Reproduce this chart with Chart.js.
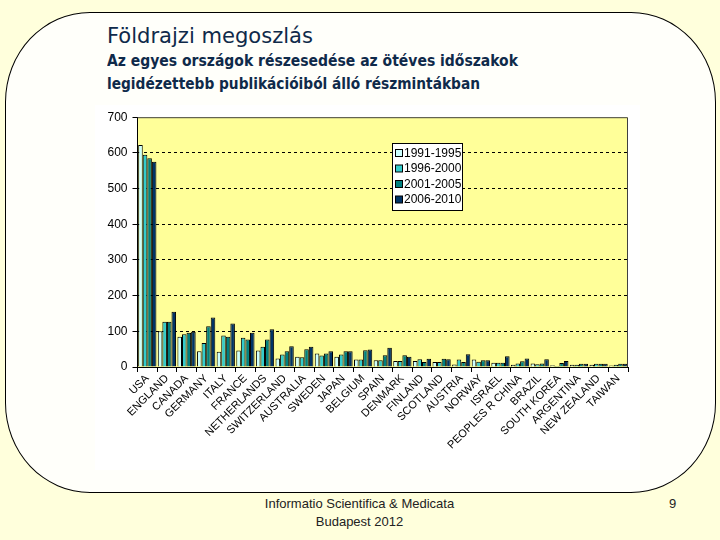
<!DOCTYPE html>
<html>
<head>
<meta charset="utf-8">
<script src="https://cdn.jsdelivr.net/npm/chart.js@4/dist/chart.umd.min.js"></script>
<style>
  html, body { margin: 0; padding: 0; }
  body { width: 720px; height: 540px; background: #ffffdc; position: relative; overflow: hidden; }
  #frame {
    position: absolute; left: 5px; top: 12px; width: 709px; height: 479px;
    border: 1px solid #000; border-radius: 85px / 90px; background: #fffffa;
  }
  .txt { position: absolute; white-space: nowrap; transform-origin: left top; color: #0f2a4a; }
  #t1 { left: 107px; top: 23px; font: 22px "DejaVu Sans Condensed", "DejaVu Sans", sans-serif; }
  #t2 { left: 107px; top: 52px; font: bold 15px "DejaVu Sans Condensed", "DejaVu Sans", sans-serif; }
  #t3 { left: 107px; top: 75px; font: bold 15px "DejaVu Sans Condensed", "DejaVu Sans", sans-serif; }
  .foot { position: absolute; font: 13px "Liberation Sans", Arial, sans-serif; color: #222; white-space: nowrap; }
  #wrap { position: absolute; left: 95px; top: 105px; width: 545px; height: 365px; background: #fff; }
</style>
</head>
<body>
<div id="frame"></div>
<div class="txt" id="t1" data-w="206">Földrajzi megoszlás</div>
<div class="txt" id="t2" data-w="411">Az egyes országok részesedése az ötéves időszakok</div>
<div class="txt" id="t3" data-w="373">legidézettebb publikációiból álló részmintákban</div>
<div class="foot" style="left:0;width:719px;text-align:center;top:496px;">Informatio Scientifica &amp; Medicata</div>
<div class="foot" style="left:0;width:719px;text-align:center;top:514px;">Budapest 2012</div>
<div class="foot" style="left:669px;top:496px;">9</div>
<div id="wrap"><canvas id="c" width="545" height="365"></canvas></div>
<script>
// fit header lines to the widths seen on the slide
document.querySelectorAll('.txt').forEach(function (el) {
    var w = el.getBoundingClientRect().width;
    el.style.transform = 'scaleX(' + (el.dataset.w / w) + ')';
});

const countries = ['USA', 'ENGLAND', 'CANADA', 'GERMANY', 'ITALY', 'FRANCE', 'NETHERLANDS',
    'SWITZERLAND', 'AUSTRALIA', 'SWEDEN', 'JAPAN', 'BELGIUM', 'SPAIN', 'DENMARK', 'FINLAND',
    'SCOTLAND', 'AUSTRIA', 'NORWAY', 'ISRAEL', 'PEOPLES R CHINA', 'BRAZIL', 'SOUTH KOREA',
    'ARGENTINA', 'NEW ZEALAND', 'TAIWAN'];
const periods = ['1991-1995', '1996-2000', '2001-2005', '2006-2010'];

const p1991 = [622, 100, 85, 44, 43, 46, 46, 24, 29, 38, 29, 21, 19, 17, 17, 14, 7, 21, 12, 6, 10, 5, 6, 6, 4];
const p1996 = [595, 127, 92, 67, 88, 82, 57, 35, 27, 32, 35, 21, 19, 17, 22, 14, 21, 15, 12, 10, 8, 3, 6, 9, 6];
const p2001 = [585, 127, 96, 114, 85, 77, 77, 44, 50, 38, 44, 47, 33, 33, 14, 23, 14, 19, 12, 16, 10, 11, 9, 9, 9];
const p2006 = [575, 155, 99, 139, 122, 96, 106, 58, 57, 44, 44, 49, 54, 29, 23, 22, 36, 19, 30, 24, 22, 17, 9, 9, 9];

const yMax = 700;
const yStep = 100;

const colors = ['#ccffff', '#33cccc', '#008080', '#003366'];

// yellow plot area and its frame
const plotArea = {
    id: 'plotArea',
    beforeDraw(chart) {
        const a = chart.chartArea, ctx = chart.ctx;
        ctx.save();
        ctx.fillStyle = '#ffff99';
        ctx.fillRect(a.left, a.top, a.right - a.left, a.bottom - a.top);
        ctx.restore();
    },
    afterDatasetsDraw(chart) {
        const a = chart.chartArea, ctx = chart.ctx;
        ctx.save();
        ctx.strokeStyle = '#404040';
        ctx.lineWidth = 1;
        ctx.beginPath();
        ctx.moveTo(a.left, a.top + 0.5);
        ctx.lineTo(a.right - 0.5, a.top + 0.5);
        ctx.lineTo(a.right - 0.5, a.bottom);
        ctx.stroke();
        ctx.restore();
    }
};

// boxed legend inside the plot
const boxLegend = {
    id: 'boxLegend',
    afterDraw(chart) {
        const ctx = chart.ctx;
        const x = 297, y = 38, w = 70, h = 67;
        ctx.save();
        ctx.fillStyle = '#fff';
        ctx.fillRect(x, y, w, h);
        ctx.strokeStyle = '#000';
        ctx.lineWidth = 1;
        ctx.strokeRect(x + 0.5, y + 0.5, w, h);
        ctx.font = '12px "Liberation Sans", Arial, sans-serif';
        ctx.textBaseline = 'middle';
        chart.data.datasets.forEach(function (ds, i) {
            const cy = y + 10 + i * 15.5;
            ctx.fillStyle = ds.backgroundColor;
            ctx.fillRect(x + 3.5, cy - 3.5, 7, 7);
            ctx.strokeStyle = '#000';
            ctx.strokeRect(x + 3.5, cy - 3.5, 7, 7);
            ctx.fillStyle = '#000';
            ctx.fillText(ds.label, x + 12, cy + 0.5);
        });
        ctx.restore();
    }
};

const seriesValues = [p1991, p1996, p2001, p2006];

new Chart(document.getElementById('c'), {
    type: 'bar',
    data: {
        labels: countries,
        datasets: seriesValues.map(function (vals, i) {
            return {
                label: periods[i],
                data: vals,
                backgroundColor: colors[i],
                borderColor: '#000',
                borderWidth: 1,
                categoryPercentage: 0.93,
                barPercentage: 1.0
            };
        })
    },
    options: {
        responsive: false,
        animation: false,
        layout: { padding: { top: 12, right: 12, left: 0, bottom: 0 } },
        plugins: {
            legend: { display: false },
            title: { display: false },
            tooltip: { enabled: false }
        },
        scales: {
            x: {
                afterFit: function (s) { s.height = 103; },
                grid: { drawOnChartArea: false, tickLength: 5, color: '#000', offset: true },
                border: { color: '#000' },
                ticks: {
                    autoSkip: false, minRotation: 45, maxRotation: 45, padding: 0,
                    color: '#000', font: { family: '"Liberation Sans", Arial, sans-serif', size: 11 }
                }
            },
            y: {
                min: 0, max: yMax,
                afterFit: function (s) { s.width = 42.5; },
                grid: {
                    tickLength: 5,
                    tickColor: '#000',
                    color: function (c) {
                        return (c.tick && (c.tick.value === 0 || c.tick.value === yMax)) ? 'rgba(0,0,0,0)' : '#000';
                    }
                },
                border: { color: '#000', dash: [3, 3] },
                ticks: {
                    stepSize: yStep, padding: 5, color: '#000',
                    font: { family: '"Liberation Sans", Arial, sans-serif', size: 12 }
                }
            }
        }
    },
    plugins: [plotArea, boxLegend]
});
</script>
</body>
</html>
